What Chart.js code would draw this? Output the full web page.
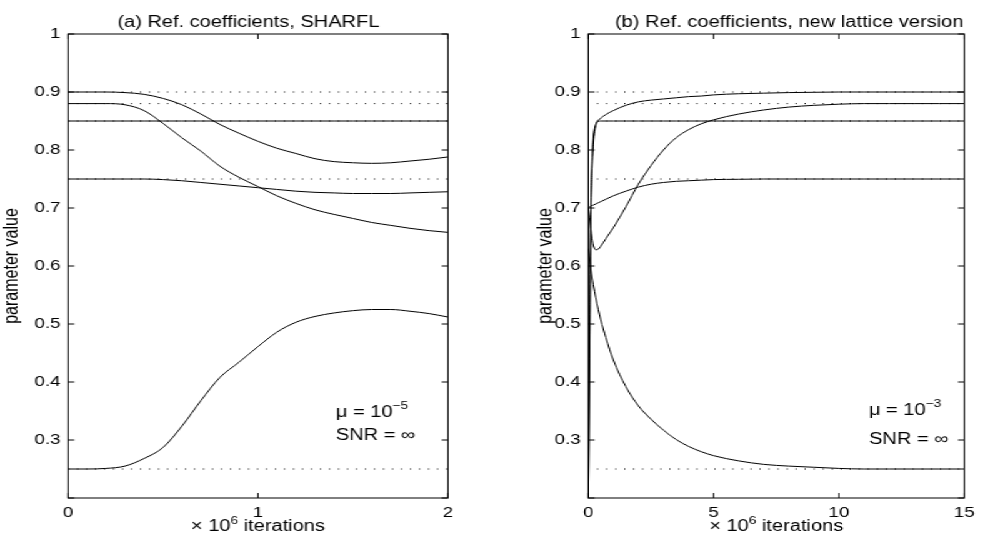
<!DOCTYPE html>
<html>
<head>
<meta charset="utf-8">
<script src="https://cdn.jsdelivr.net/npm/chart.js@4.4.1/dist/chart.umd.min.js"></script>
<style>
  html, body { margin: 0; padding: 0; background: #fff; overflow: hidden; }
  /* the figure is stretched horizontally: draw it narrow, then scale it out */
  #stage { width: 784.8px; height: 540px; display: flex; transform: scaleX(1.25); transform-origin: 0 0; }
  .panel { position: relative; height: 540px; }
  #panelA { width: 392px; }
  #panelB { width: 392.8px; }
</style>
</head>
<body>
<div id="stage">
  <div class="panel" id="panelA"><canvas id="chartA"></canvas></div>
  <div class="panel" id="panelB"><canvas id="chartB"></canvas></div>
</div>
<script>
// x in units of 10^6 iterations
const itersA = [0, 0.1, 0.2, 0.3, 0.4, 0.5, 0.6, 0.7, 0.8, 0.9, 1.0, 1.1, 1.2, 1.3, 1.4, 1.5, 1.6, 1.7, 1.8, 1.9, 2.0];
const sharfl1 = [0.900, 0.900, 0.900, 0.899, 0.896, 0.889, 0.878, 0.862, 0.844, 0.829, 0.815, 0.803, 0.794, 0.785, 0.780, 0.778, 0.777, 0.778, 0.781, 0.784, 0.788];
const sharfl2 = [0.880, 0.880, 0.880, 0.878, 0.868, 0.846, 0.821, 0.798, 0.772, 0.753, 0.737, 0.721, 0.708, 0.697, 0.689, 0.682, 0.675, 0.670, 0.665, 0.661, 0.658];
const sharfl3 = [0.85, 0.85, 0.85, 0.85, 0.85, 0.85, 0.85, 0.85, 0.85, 0.85, 0.85, 0.85, 0.85, 0.85, 0.85, 0.85, 0.85, 0.85, 0.85, 0.85, 0.85];
const sharfl4 = [0.750, 0.750, 0.750, 0.750, 0.750, 0.749, 0.747, 0.744, 0.741, 0.738, 0.735, 0.732, 0.729, 0.727, 0.726, 0.725, 0.725, 0.725, 0.726, 0.727, 0.728];
const sharfl5 = [0.250, 0.250, 0.251, 0.255, 0.268, 0.287, 0.324, 0.368, 0.408, 0.434, 0.461, 0.486, 0.503, 0.513, 0.519, 0.523, 0.525, 0.525, 0.522, 0.518, 0.512];

const itersB = [0, 0.05, 0.1, 0.15, 0.2, 0.3, 0.4, 0.5, 0.7, 1, 1.5, 2, 2.5, 3, 3.5, 4, 4.5, 5, 6, 7, 8, 9, 10, 11, 12, 13, 14, 15];
const lattice1 = [0.20, 0.45, 0.70, 0.78, 0.82, 0.845, 0.851, 0.855, 0.861, 0.868, 0.877, 0.883, 0.886, 0.888, 0.890, 0.892, 0.893, 0.895, 0.897, 0.898, 0.899, 0.8995, 0.900, 0.900, 0.900, 0.900, 0.900, 0.900];
const lattice2 = [0.700, 0.683, 0.665, 0.648, 0.636, 0.628, 0.629, 0.634, 0.647, 0.666, 0.702, 0.741, 0.773, 0.800, 0.821, 0.835, 0.845, 0.852, 0.862, 0.869, 0.874, 0.877, 0.879, 0.880, 0.880, 0.880, 0.880, 0.880];
const lattice3 = [0.20, 0.44, 0.68, 0.76, 0.81, 0.842, 0.849, 0.850, 0.85, 0.85, 0.85, 0.85, 0.85, 0.85, 0.85, 0.85, 0.85, 0.85, 0.85, 0.85, 0.85, 0.85, 0.85, 0.85, 0.85, 0.85, 0.85, 0.85];
const lattice4 = [0.700, 0.702, 0.703, 0.704, 0.705, 0.707, 0.709, 0.711, 0.715, 0.721, 0.729, 0.736, 0.741, 0.744, 0.746, 0.747, 0.748, 0.749, 0.7495, 0.750, 0.750, 0.750, 0.750, 0.750, 0.750, 0.750, 0.750, 0.750];
const lattice5 = [0.630, 0.612, 0.595, 0.581, 0.568, 0.545, 0.525, 0.507, 0.477, 0.438, 0.392, 0.359, 0.336, 0.317, 0.301, 0.289, 0.280, 0.273, 0.264, 0.258, 0.255, 0.253, 0.251, 0.250, 0.250, 0.250, 0.250, 0.250];

// true reflection coefficients (dotted)
const refLevels = [0.9, 0.88, 0.85, 0.75, 0.25];

const FONT = "'Liberation Sans', Arial, Helvetica, sans-serif";
Chart.defaults.font.family = FONT;
Chart.defaults.color = '#000';

// draw text pieces [text, size, raise] in a row
function drawPieces(ctx, pieces, x, y, align) {
  let total = 0;
  pieces.forEach(p => { ctx.font = p[1] + 'px ' + FONT; total += ctx.measureText(p[0]).width; });
  let cx = align === 'center' ? x - total / 2 : x;
  ctx.textAlign = 'left';
  ctx.textBaseline = 'alphabetic';
  pieces.forEach(p => {
    ctx.font = p[1] + 'px ' + FONT;
    ctx.fillText(p[0], cx, y - p[2]);
    cx += ctx.measureText(p[0]).width;
  });
}

// matlab style box, inward ticks, title, x label, notes
const framePlugin = {
  id: 'frame',
  afterDraw(chart, args, opts) {
    const {ctx, chartArea: a} = chart;
    const x = chart.scales.x, y = chart.scales.y;
    ctx.save();
    ctx.strokeStyle = '#000';
    ctx.lineWidth = 1;
    ctx.strokeRect(a.left, a.top, a.right - a.left, a.bottom - a.top);
    ctx.beginPath();
    y.ticks.forEach(t => {
      const py = y.getPixelForValue(t.value);
      ctx.moveTo(a.left, py); ctx.lineTo(a.left + 5, py);
      ctx.moveTo(a.right, py); ctx.lineTo(a.right - 5, py);
    });
    x.ticks.forEach(t => {
      const px = x.getPixelForValue(t.value);
      ctx.moveTo(px, a.bottom); ctx.lineTo(px, a.bottom - 5);
      ctx.moveTo(px, a.top); ctx.lineTo(px, a.top + 5);
    });
    ctx.stroke();

    ctx.fillStyle = '#000';
    drawPieces(ctx, [[opts.title, 16, 0]], opts.titleX, 27, 'center');
    drawPieces(ctx, [['\u00d7 10', 16, 0], ['6', 11, 7], [' iterations', 16, 0]], (a.left + a.right) / 2, 531, 'center');
    drawPieces(ctx, [['\u03bc = 10', 16, 0], [opts.mu, 11, 8]], opts.noteX, opts.muY, 'left');
    drawPieces(ctx, [['SNR = \u221e', 16, 0]], opts.noteX, opts.snrY, 'left');
    ctx.restore();
  }
};

function makeChart(id, xs, series, refFrom, xMax, xStep, cfg) {
  const datasets = [];
  refLevels.forEach(level => {
    datasets.push({
      data: [{x: refFrom, y: level}, {x: xMax, y: level}],
      borderColor: '#000',
      borderWidth: 1,
      borderDash: [1, 6.2],
      pointRadius: 0
    });
  });
  series.forEach(vals => {
    datasets.push({
      data: xs.map((v, i) => ({x: v, y: vals[i]})),
      borderColor: '#000',
      borderWidth: 1,
      pointRadius: 0,
      cubicInterpolationMode: 'monotone'
    });
  });

  return new Chart(document.getElementById(id), {
    type: 'line',
    data: {datasets: datasets},
    options: {
      responsive: true,
      maintainAspectRatio: false,
      animation: false,
      layout: {padding: {left: cfg.padLeft, right: cfg.padRight, top: 34, bottom: 0}},
      plugins: {
        legend: {display: false},
        tooltip: {enabled: false},
        frame: cfg
      },
      scales: {
        x: {
          type: 'linear',
          min: 0,
          max: xMax,
          ticks: {stepSize: xStep, font: {size: 15}, padding: 6, maxRotation: 0, autoSkip: false},
          grid: {display: false, drawTicks: false},
          border: {display: false},
          afterFit: s => { s.height = 42; }
        },
        y: {
          min: 0.2,
          max: 1,
          ticks: {
            stepSize: 0.1,
            font: {size: 15},
            padding: 6,
            callback: v => v < 0.25 ? '' : String(+v.toFixed(1))
          },
          grid: {display: false, drawTicks: false},
          border: {display: false},
          title: {display: true, text: 'parameter value', font: {size: 16}, padding: {top: 0, bottom: 0}},
          afterFit: s => { s.width = cfg.yWidth; }
        }
      }
    },
    plugins: [framePlugin]
  });
}

makeChart('chartA', itersA, [sharfl1, sharfl2, sharfl3, sharfl4, sharfl5], 0, 2, 1, {
  padLeft: 0, padRight: 33.6, yWidth: 54.4,
  title: '(a) Ref. coefficients, SHARFL', titleX: 198.8,
  mu: '\u22125', noteX: 268.8, muY: 417, snrY: 440
});

makeChart('chartB', itersB, [lattice1, lattice2, lattice3, lattice4, lattice5], 0.35, 15, 5, {
  padLeft: 35, padRight: 10.4, yWidth: 43.4,
  title: '(b) Ref. coefficients, new lattice version', titleX: 238.8,
  mu: '\u22123', noteX: 302.4, muY: 415, snrY: 444
});
</script>
</body>
</html>
